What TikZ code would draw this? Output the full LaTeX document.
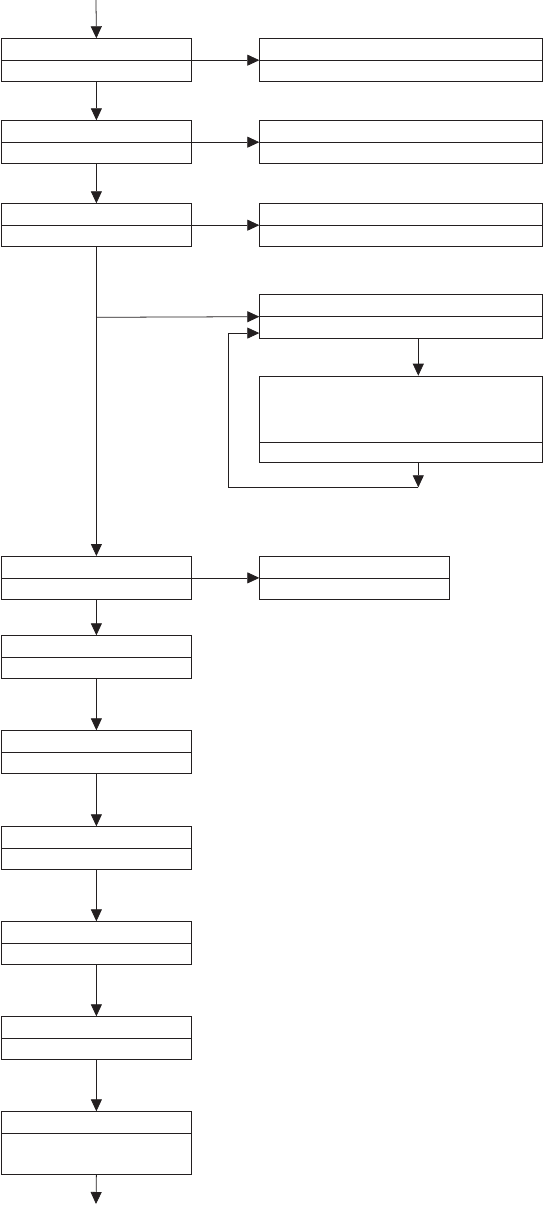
\documentclass[tikz,border=0pt]{standalone}
\usepackage{tikz}
\usetikzlibrary{positioning, arrows.meta, calc}
\usepackage{xcolor}
\definecolor{Ink}{HTML}{231F20}

\tikzset{
  stage/.style={draw=Ink, line width=1.1pt, inner sep=0pt, anchor=north west,
                minimum width=95mm, minimum height=21.5mm},
  wide/.style={stage, minimum width=141.5mm},
  flow/.style={draw=Ink, line width=1.1pt, -{Triangle[length=6mm, width=5.5mm]}},
  link/.style={draw=Ink, line width=1.1pt}
}

\begin{document}
\begin{tikzpicture}[x=0.5mm, y=-0.5mm]
            \useasboundingbox (0,0) rectangle (544,1206);
            % main column
            \node[stage] (b1) at (1, 38.3) {};
            \node[stage] (b2) at (1, 120.3) {};
            \node[stage] (b3) at (1, 203.3) {};
            \node[stage] (b4) at (1, 556) {};
            \node[stage] (b5) at (1, 635.3) {};
            \node[stage] (b6) at (1, 730.3) {};
            \node[stage] (b7) at (1, 826.3) {};
            \node[stage] (b8) at (1, 921.3) {};
            \node[stage] (b9) at (1, 1016.3) {};
            \node[stage, minimum height=31.5mm] (b10) at (1, 1111.3) {};
            % side boxes
            \node[wide] (r1) at (259.3, 38.3) {};
            \node[wide] (r2) at (259.3, 120.3) {};
            \node[wide] (r3) at (259.3, 203.3) {};
            \node[wide, minimum height=22mm] (ra) at (259.3, 294.3) {};
            \node[wide, minimum height=43.3mm] (rb) at (259.3, 375.7) {};
            \node[stage] (r4) at (259.3, 556) {};
            % dividers
            \foreach \n in {b1,b2,b3,b4,b5,b6,b7,b8,b9,r1,r2,r3,ra,r4}
                \draw[link] (\n.west) -- (\n.east);
            \draw[link] ($(b10.north west)+(0,22)$) -- ($(b10.north east)+(0,22)$);
            \draw[link] ($(rb.south west)+(0,-20.6)$) -- ($(rb.south east)+(0,-20.6)$);
            % connectors
            \coordinate (start) at (96, 0);
            \coordinate (finish) at (96, 1204);
            \coordinate (tap) at (96, 317.3);
            \coordinate (drop) at (418.3, 0);
            \coordinate (back1) at (418.3, 487.3);
            \coordinate (back2) at (228.3, 487.3);
            \draw[flow] (start) -- (b1.north);
            \foreach \a/\b in {b1/b2, b2/b3, b3/b4, b4/b5, b5/b6, b6/b7, b7/b8, b8/b9, b9/b10}
                \draw[flow] (\a.south) -- (\b.north);
            \draw[flow] (b10.south) -- (finish);
            \foreach \a/\b in {b1/r1, b2/r2, b3/r3, b4/r4}
                \draw[flow] (\a.east) -- (\b.west);
            \draw[flow] (tap) -- (ra.west);
            \draw[flow] (ra.south -| drop) -- (rb.north -| drop);
            \draw[flow] (rb.south -| drop) -- (back1);
            \draw[flow] (back1) -- (back2) |- ($(ra.south west)+(0,-6)$);
        \end{tikzpicture}
\end{document}
